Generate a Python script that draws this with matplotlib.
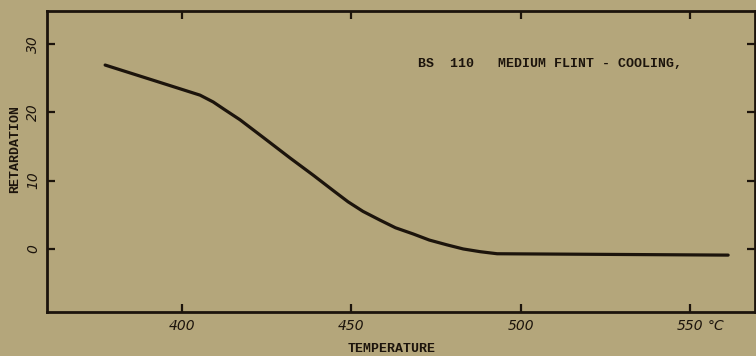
import matplotlib.pyplot as plt

# curve (temperature in deg C, retardation)
temperature = [377.3, 392.6, 405.3, 409.2, 412.5, 417.1, 424.0, 431.9, 438.7,
               445.0, 449.0, 453.4, 458.5, 463.0, 468.2, 473.0, 478.2, 483.0,
               488.0, 493.0, 561.2]
retardation = [26.9, 24.5, 22.5, 21.5, 20.4, 18.9, 16.3, 13.3, 10.8,
               8.4, 6.9, 5.5, 4.2, 3.1, 2.2, 1.3, 0.6, 0.0,
               -0.4, -0.7, -0.9]

x_ticks = [400, 450, 500, 550]
y_ticks = [0, 10, 20, 30]

paper = '#b4a67b'
ink = '#1c140c'

fig = plt.figure(figsize=(7.56, 3.56), dpi=100, facecolor=paper)
ax = fig.add_axes([0.062, 0.124, 0.937, 0.845], facecolor=paper)

ax.plot(temperature, retardation, color=ink, linewidth=2.3,
        solid_capstyle='round', solid_joinstyle='round')

ax.set_xlim(360.1, 569.2)
ax.set_ylim(-9.2, 34.8)

for side in ['left', 'bottom', 'top', 'right']:
    ax.spines[side].set_color(ink)
    ax.spines[side].set_linewidth(2.0)

ax.set_xticks(x_ticks)
ax.set_yticks(y_ticks)
ax.set_xticklabels([str(v) for v in x_ticks], fontstyle='italic', fontsize=10)
ax.set_yticklabels([str(v) for v in y_ticks], fontstyle='italic', fontsize=10,
                   rotation=90, va='center')
ax.tick_params(axis='both', direction='in', length=6, width=1.6, color=ink,
               labelcolor=ink, top=True, right=True, pad=5)

# unit written after the last tick label
ax.text(0.933, -0.047, '°C', transform=ax.transAxes, ha='left', va='center',
        fontstyle='italic', fontsize=10, color=ink)

ax.set_xlabel('TEMPERATURE', family='Liberation Mono', fontweight='bold',
              fontsize=9.5, color=ink)
ax.set_ylabel('RETARDATION', family='Liberation Mono', fontweight='bold',
              fontsize=9.5, color=ink)
ax.xaxis.set_label_coords(0.487, -0.123)
ax.yaxis.set_label_coords(-0.045, 0.54)
ax.xaxis.label.set_va('center')
ax.yaxis.label.set_va('center')

ax.text(0.524, 0.824, 'BS  110   MEDIUM FLINT - COOLING,', transform=ax.transAxes,
        family='Liberation Mono', fontweight='bold', fontsize=9.5, color=ink,
        ha='left', va='center')

fig.savefig('out.png', dpi=100, facecolor=paper)
